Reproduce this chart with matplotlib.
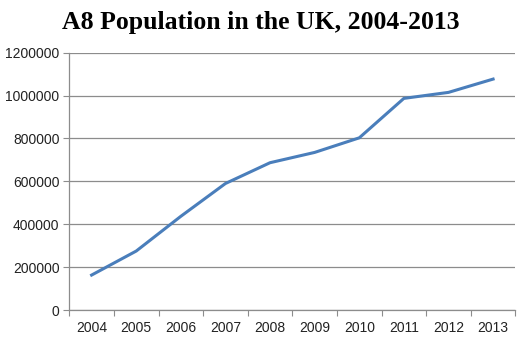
import matplotlib
matplotlib.use("Agg")
import matplotlib.pyplot as plt
import numpy as np

years = ["2004", "2005", "2006", "2007", "2008", "2009", "2010", "2011", "2012", "2013"]
population = [163000, 275000, 437000, 590000, 687000, 735000, 803000, 987000, 1015000, 1077000]
yticks = [0, 200000, 400000, 600000, 800000, 1000000, 1200000]

fig = plt.figure(figsize=(5.27, 3.39), dpi=100)
ax = fig.add_axes([0.1315, 0.0855, 0.8465, 0.759])

x = np.arange(len(years))
ax.plot(x, population, color="#4A7EBB", lw=2.2, solid_joinstyle="round")

ax.set_xlim(-0.5, len(years) - 0.5)
ax.set_ylim(0, 1200000)
ax.set_yticks(yticks)
ax.set_yticklabels([str(v) for v in yticks], fontsize=10, family="Liberation Sans", color="#222222")
ax.yaxis.grid(True, color="#8C8C8C", lw=0.9)
ax.set_axisbelow(True)

ax.set_xticks(np.arange(-0.5, len(years), 1.0))
ax.set_xticklabels([])
ax.set_xticks(x, minor=True)
ax.set_xticklabels(years, minor=True, fontsize=10, family="Liberation Sans", color="#222222")
ax.tick_params(axis="x", which="major", length=4, color="#8C8C8C", direction="out")
ax.tick_params(axis="x", which="minor", length=0, pad=8)
ax.tick_params(axis="y", length=4, color="#8C8C8C", direction="out", pad=3)

for s in ["top", "right"]:
    ax.spines[s].set_visible(False)
for s in ["left", "bottom"]:
    ax.spines[s].set_color("#8C8C8C")
    ax.spines[s].set_linewidth(0.9)

fig.text(0.494, 0.935, "A8 Population in the UK, 2004-2013", ha="center", va="center",
         fontsize=18.5, fontweight="bold", family="Liberation Serif")

fig.savefig("out.png", dpi=100)
